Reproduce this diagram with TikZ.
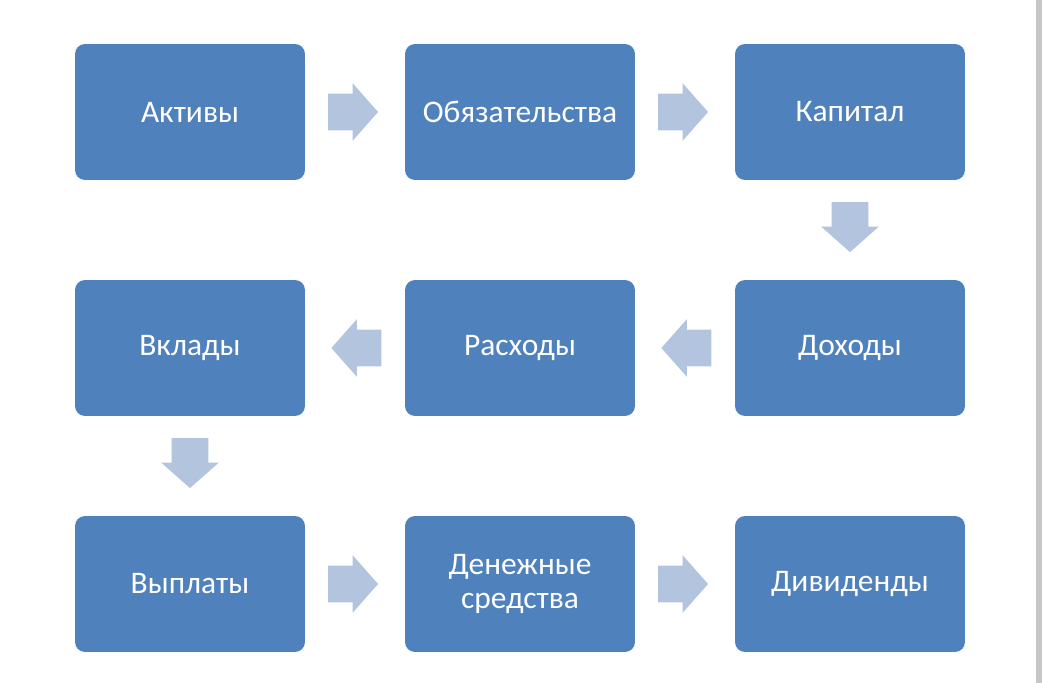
\documentclass[tikz,border=0pt]{standalone}
\usepackage{fontspec}
\setmainfont{Carlito}
\usetikzlibrary{shapes.arrows,calc}
\definecolor{boxblue}{HTML}{4F81BD}
\definecolor{arrblue}{HTML}{B3C4DF}
\begin{document}
\begin{tikzpicture}[x=0.02cm, y=-0.02cm,
  box/.style={rectangle, rounded corners=0.2cm, fill=boxblue, text=white,
    minimum width=4.6cm, minimum height=2.72cm, align=center,
    font=\fontsize{17.9}{19.6}\selectfont},
  arr/.style={single arrow, fill=arrblue, inner xsep=0pt, inner ysep=0.36cm, minimum height=1cm,
    minimum width=1.14cm, single arrow head extend=0.21cm, single arrow tip angle=97},
  rarr/.style={arr, xshift=-0.2cm},
  larr/.style={arr, shape border rotate=180, xshift=0.19cm},
  darr/.style={arr, inner xsep=0.36cm, inner ysep=0pt, shape border rotate=270, yshift=0.22cm}]
\useasboundingbox (0,0) rectangle (1042,683);
\fill [black!22] (1036,0) rectangle (1042,683);
% first row
\node [box] (assets) at (190,112) {Активы};
\node [box] (liab) at (520,112) {Обязательства};
\node [box] (capital) at (850,112) {Капитал};
% second row
\node [box] (deposits) at (190,348) {Вклады};
\node [box] (expenses) at (520,348) {Расходы};
\node [box] (income) at (850,348) {Доходы};
% third row
\node [box] (payouts) at (190,584) {Выплаты};
\node [box] (cash) at (520,584) {Денежные\\средства};
\node [box] (dividends) at (850,584) {Дивиденды};
% block arrows
\node [rarr] (a1) at ($(assets)!0.5!(liab)$) {};
\node [rarr] (a2) at ($(liab)!0.5!(capital)$) {};
\node [darr] (a3) at ($(capital)!0.5!(income)$) {};
\node [larr] (a4) at ($(income)!0.5!(expenses)$) {};
\node [larr] (a5) at ($(expenses)!0.5!(deposits)$) {};
\node [darr] (a6) at ($(deposits)!0.5!(payouts)$) {};
\node [rarr] (a7) at ($(payouts)!0.5!(cash)$) {};
\node [rarr] (a8) at ($(cash)!0.5!(dividends)$) {};
\end{tikzpicture}
\end{document}
